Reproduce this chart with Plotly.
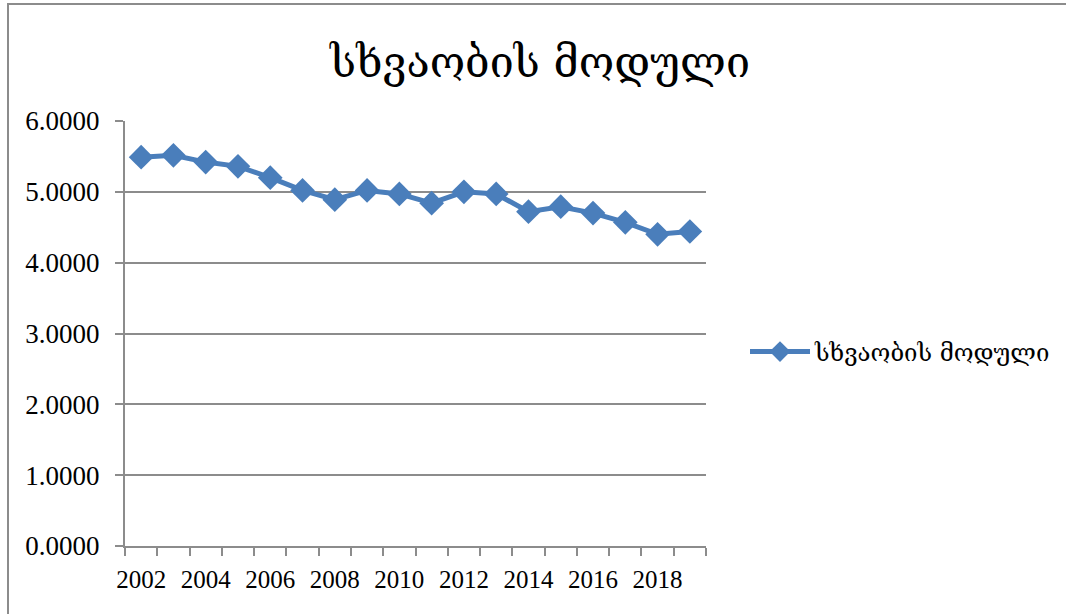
import plotly.graph_objects as go

title = "სხვაობის მოდული"
years = list(range(2002, 2020))
values = [5.49, 5.515, 5.42, 5.36, 5.20, 5.02, 4.89, 5.02, 4.97, 4.84,
          5.00, 4.97, 4.72, 4.79, 4.70, 4.57, 4.40, 4.44]
tick_labels = [str(y) if y % 2 == 0 else "" for y in years]

W, H = 1066, 614
L, R, T, B = 125, 706, 121, 546
pw, ph = R - L, B - T

grid = "#8c8c8c"
blue = "#4a7ebb"

fig = go.Figure()
fig.add_trace(go.Scatter(
    x=[str(y) for y in years], y=values, name=title, mode="lines+markers",
    line=dict(color=blue, width=5),
    marker=dict(symbol="diamond", size=19, color=blue),
))

fig.update_xaxes(type="category", range=[-0.5, len(years) - 0.5],
                 tickson="boundaries", tickvals=[str(y) for y in years],
                 ticktext=tick_labels, tickangle=0, automargin=False,
                 ticks="outside", ticklen=8, tickcolor=grid, tickwidth=2, ticklabelstandoff=10,
                 showline=True, linecolor=grid, linewidth=2, showgrid=False,
                 tickfont=dict(family="Liberation Serif", size=25, color="black"))
fig.update_yaxes(range=[0, 6], dtick=1, tickformat=".4f", ticks="outside", ticklen=8,
                 automargin=False, ticklabelstandoff=10,
                 tickcolor=grid, tickwidth=2, showline=True, linecolor=grid, linewidth=2,
                 gridcolor=grid, gridwidth=2, zeroline=False,
                 tickfont=dict(family="Liberation Serif", size=27, color="black"))

# chart frame
fig.add_shape(type="rect", xref="paper", yref="paper",
              x0=(8 - L) / pw, x1=(W + 5 - L) / pw, y0=(B - H - 5) / ph, y1=(B - 4) / ph,
              line=dict(color="#8c8c8c", width=2), layer="below")

fig.update_layout(
    width=W, height=H,
    margin=dict(l=L, r=W - R, t=T, b=H - B, autoexpand=False),
    plot_bgcolor="white", paper_bgcolor="white",
    title=dict(text=title, x=(540) / W, xanchor="center", y=1 - 62 / H, yanchor="middle",
               font=dict(family="DejaVu Serif, DejaVu Sans", size=43, color="black")),
    showlegend=True,
    legend=dict(x=(745 - L) / pw, y=(B - 352) / ph, xanchor="left", yanchor="middle",
                itemwidth=60,
                font=dict(family="DejaVu Serif, DejaVu Sans", size=24, color="black"),
                bgcolor="rgba(0,0,0,0)"),
)

fig.write_html("out.html", config={"displayModeBar": False},
               post_script="document.body.style.margin='0';")
